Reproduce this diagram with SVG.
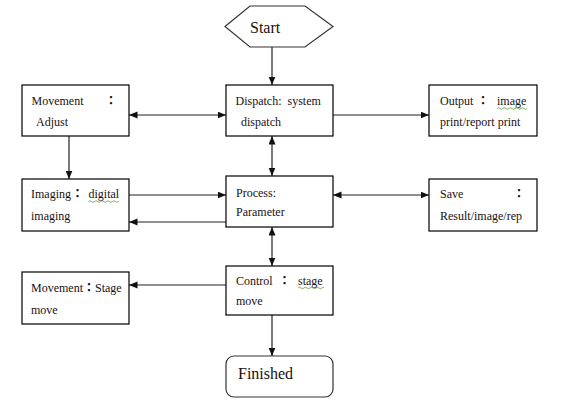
<svg xmlns="http://www.w3.org/2000/svg" width="578" height="404" viewBox="0 0 578 404">
<style>
.box{fill:#fff;stroke:#000;stroke-width:1.2}
.t{font-family:"Liberation Serif","Noto Sans CJK TC","Noto Sans CJK SC",serif;font-size:12px;fill:#1a1010}
.big{font-size:16px}
.c{font-family:"Noto Sans CJK TC","Noto Sans CJK SC",sans-serif;font-weight:bold}
.conn line{stroke:#222;stroke-width:1.2}
.sq{fill:none;stroke:#5c9a3a;stroke-width:0.8}
</style>
<defs>
<marker id="ah" markerWidth="9" markerHeight="8" refX="8.5" refY="3.5" orient="auto-start-reverse" markerUnits="userSpaceOnUse">
<path d="M0,0 L8.5,3.5 L0,7 z" fill="#111"/>
</marker>
</defs>
<rect width="578" height="404" fill="#fff"/>
<g class="conn">
<line x1="272" y1="47" x2="272" y2="85" marker-end="url(#ah)"/>
<line x1="129" y1="115" x2="226" y2="115" marker-start="url(#ah)" marker-end="url(#ah)"/>
<line x1="333" y1="115" x2="429" y2="115" marker-end="url(#ah)"/>
<line x1="69" y1="136" x2="69" y2="179" marker-end="url(#ah)"/>
<line x1="272" y1="136" x2="272" y2="176" marker-start="url(#ah)" marker-end="url(#ah)"/>
<line x1="129" y1="195" x2="226" y2="195" marker-end="url(#ah)"/>
<line x1="226" y1="222" x2="129" y2="222" marker-end="url(#ah)"/>
<line x1="333" y1="195" x2="429" y2="195" marker-start="url(#ah)" marker-end="url(#ah)"/>
<line x1="272" y1="227" x2="272" y2="266" marker-start="url(#ah)" marker-end="url(#ah)"/>
<line x1="226" y1="285" x2="129" y2="285" marker-end="url(#ah)"/>
<line x1="272" y1="315" x2="272" y2="356" marker-end="url(#ah)"/>
</g>
<g id="start">
<polygon points="225,26.5 250,6 305,6 333,26.5 305,47 250,47" fill="#fff" stroke="#333" stroke-width="1.2"/>
<text class="t big" x="250" y="33">Start</text>
</g>
<g id="movement-adjust">
<rect class="box" x="22" y="85" width="107" height="51"/>
<text class="t" y="105"><tspan x="31.5">Movement</tspan><tspan class="c" x="105">：</tspan></text>
<text class="t" x="36" y="126">Adjust</text>
</g>
<g id="dispatch">
<rect class="box" x="226" y="85" width="107" height="51"/>
<text class="t" y="104.5"><tspan x="235.5">Dispatch:</tspan><tspan x="287.5">system</tspan></text>
<text class="t" x="241" y="125.5">dispatch</text>
</g>
<g id="output">
<rect class="box" x="429" y="85" width="108" height="51"/>
<text class="t" y="105"><tspan x="440">Output</tspan><tspan class="c" x="477">：</tspan><tspan x="497">image</tspan></text>
<path class="sq" d="M497,108.5 q1.5,-1.5 3,0 t3,0 t3,0 t3,0 t3,0 t3,0 t3,0 t3,0 t3,0 t3,0"/>
<text class="t" x="440" y="126">print/report print</text>
</g>
<g id="imaging">
<rect class="box" x="22" y="179" width="107" height="52"/>
<text class="t" y="198"><tspan x="31">Imaging</tspan><tspan class="c" x="71.5">：</tspan><tspan x="88.5">digital</tspan></text>
<path class="sq" d="M88.5,201.5 q1.5,-1.5 3,0 t3,0 t3,0 t3,0 t3,0 t3,0 t3,0 t3,0 t3,0 t3,0"/>
<text class="t" x="31" y="220">imaging</text>
</g>
<g id="process">
<rect class="box" x="226" y="176" width="107" height="51"/>
<text class="t" x="236" y="196.5">Process:</text>
<text class="t" x="236" y="215.5">Parameter</text>
</g>
<g id="save">
<rect class="box" x="429" y="179" width="108" height="52"/>
<text class="t" y="197.5"><tspan x="440">Save</tspan><tspan class="c" x="513">：</tspan></text>
<text class="t" x="440" y="220">Result/image/rep</text>
</g>
<g id="control">
<rect class="box" x="226" y="266" width="107" height="49"/>
<text class="t" y="284.5"><tspan x="236">Control</tspan><tspan class="c" x="278.5">：</tspan><tspan x="298">stage</tspan></text>
<path class="sq" d="M298,288 q1.5,-1.5 3,0 t3,0 t3,0 t3,0 t3,0 t3,0 t3,0 t3,0 t2,0"/>
<text class="t" x="236" y="304.5">move</text>
</g>
<g id="movement-stage">
<rect class="box" x="22" y="272" width="107" height="52"/>
<text class="t" x="31" y="291.5">Movement<tspan class="c">：</tspan>Stage</text>
<text class="t" x="31" y="313.5">move</text>
</g>
<g id="finished">
<rect x="226" y="356" width="107" height="41" rx="8" ry="8" fill="#fff" stroke="#333" stroke-width="1.2"/>
<text class="t big" x="238" y="379">Finished</text>
</g>
</svg>
